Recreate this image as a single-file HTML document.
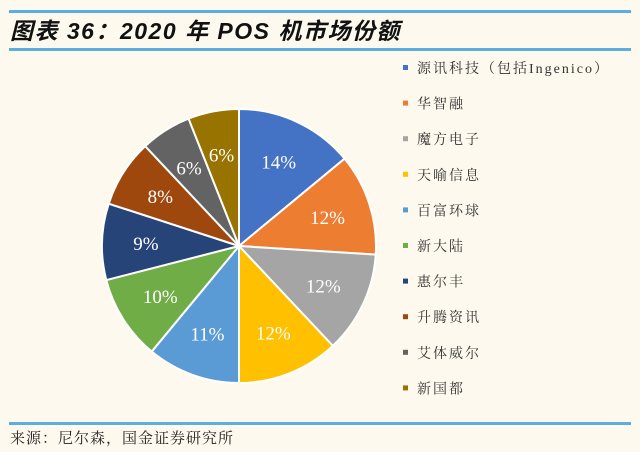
<!DOCTYPE html>
<html><head><meta charset="utf-8"><style>
body{margin:0;background:#fdf9ee;}
#w{position:relative;width:640px;height:452px;background:#fdf9ee;overflow:hidden;font-family:"Liberation Serif","Noto Serif CJK SC",serif;}
.hl{position:absolute;left:9px;width:622px;height:3px;background:#5aaee0;}
#title{position:absolute;left:10px;top:12px;font:italic bold 23px "Liberation Sans","Noto Sans CJK SC",sans-serif;letter-spacing:1.5px;color:#111;}
#src{position:absolute;left:10px;top:427px;font-size:15px;letter-spacing:1px;color:#222;}
</style></head><body>
<div id="w">
<div class="hl" style="top:10px"></div>
<div id="title">图表 36：2020 年 POS 机市场份额</div>
<div class="hl" style="top:48px"></div>
<svg id="svg" width="640" height="452" style="position:absolute;left:0;top:0"></svg>
<div class="hl" style="top:422px"></div>
<div id="src">来源：尼尔森，国金证券研究所</div>
</div>
<script>
const categories=["源讯科技（包括Ingenico）","华智融","魔方电子","天喻信息","百富环球","新大陆","惠尔丰","升腾资讯","艾体威尔","新国都"];
const shares=[14,12,12,12,11,10,9,8,6,6];
const colors=["#4472C4","#ED7D31","#A5A5A5","#FFC000","#5B9BD5","#70AD47","#264478","#9E480E","#636363","#997300"];
const NS="http://www.w3.org/2000/svg";
const svg=document.getElementById('svg');
const cx=239,cy=246,r=137;
const total=shares.reduce((a,b)=>a+b,0);
let a0=0;
shares.forEach((v,i)=>{
  const a1=a0+v/total*2*Math.PI;
  const p=a=>[cx+r*Math.sin(a),cy-r*Math.cos(a)];
  const [x0,y0]=p(a0),[x1,y1]=p(a1);
  const path=document.createElementNS(NS,'path');
  path.setAttribute('d',`M${cx},${cy}L${x0},${y0}A${r},${r} 0 ${a1-a0>Math.PI?1:0} 1 ${x1},${y1}Z`);
  path.setAttribute('fill',colors[i]);path.setAttribute('stroke','#fff');path.setAttribute('stroke-width','2');
  
  
  svg.appendChild(path);
  const am=(a0+a1)/2,lr=r*0.68;
  const t=document.createElementNS(NS,'text');
  t.setAttribute('x',cx+lr*Math.sin(am));t.setAttribute('y',cy-lr*Math.cos(am)+7);
  t.setAttribute('text-anchor','middle');t.setAttribute('fill','#fff');
  t.setAttribute('font-size','19');t.setAttribute('font-family','"Liberation Serif",serif');
  t.textContent=v+'%';
  
  
  svg.appendChild(t);
  a0=a1;
});
categories.forEach((c,i)=>{
  const y=68+i*35.6;
  const g=document.createElementNS(NS,'g');
  
  
  const m=document.createElementNS(NS,'rect');
  m.setAttribute('x',403);m.setAttribute('y',y-3);m.setAttribute('width',5);m.setAttribute('height',5);m.setAttribute('fill',colors[i]);
  const t=document.createElementNS(NS,'text');
  t.setAttribute('x',417);t.setAttribute('y',y+5);t.setAttribute('font-size','14');t.setAttribute('fill','#333');
  t.setAttribute('letter-spacing','2');
  t.setAttribute('font-family','"Liberation Serif","Noto Serif CJK SC",serif');
  t.textContent=c;
  g.appendChild(m);g.appendChild(t);svg.appendChild(g);
});
</script>
</body></html>
